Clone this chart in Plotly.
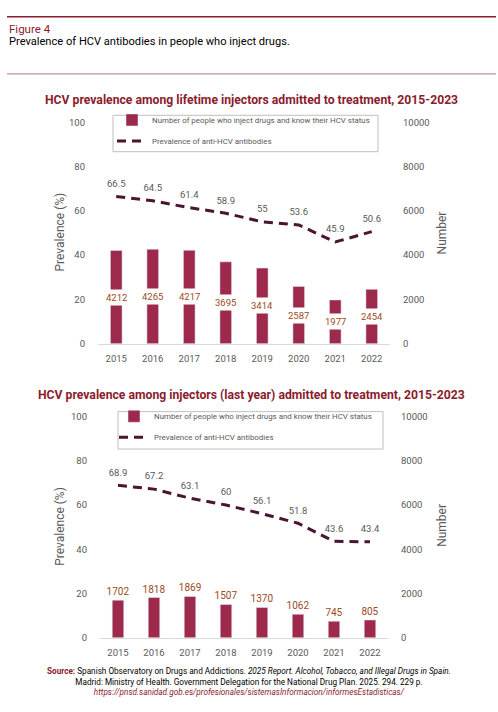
import plotly.graph_objects as go

# data
years = ["2015", "2016", "2017", "2018", "2019", "2020", "2021", "2022"]
lifetime_number = [4212, 4265, 4217, 3695, 3414, 2587, 1977, 2454]
lifetime_prev = [66.5, 64.5, 61.4, 58.9, 55, 53.6, 45.9, 50.6]
lastyear_number = [1702, 1818, 1869, 1507, 1370, 1062, 745, 805]
lastyear_prev = [68.9, 67.2, 63.1, 60, 56.1, 51.8, 43.6, 43.4]

BAR_COLOR = "#9E2A4B"
LINE_COLOR = "#4A1530"
LABEL_COLOR = "#9C4A1E"
TITLE_COLOR = "#8B1C2C"
TICK_COLOR = "#595959"
FONT = "Roboto, sans-serif"
W, H = 498, 712


def py(px):
    # pixel row -> paper y
    return 1 - px / H


def px_x(px):
    return px / W


fig = go.Figure()

# top chart: lifetime injectors
fig.add_trace(go.Bar(
    x=years, y=lifetime_number, yaxis="y2", xaxis="x",
    name="Number of people who inject drugs and know their HCV status",
    marker_color=BAR_COLOR, legend="legend", legendgroup="a",
))
fig.add_trace(go.Scatter(
    x=years, y=lifetime_prev, yaxis="y", xaxis="x",
    name="Prevalence of anti-HCV antibodies",
    mode="lines+markers+text", text=[str(v) for v in lifetime_prev],
    textposition="top center", textfont=dict(color=TICK_COLOR, size=9.5),
    marker=dict(size=10, color="rgba(0,0,0,0)"),  # invisible, only pushes labels up
    line=dict(color=LINE_COLOR, width=3, dash="9px,6px"),
    legend="legend", legendgroup="b",
))

# bottom chart: last-year injectors
fig.add_trace(go.Bar(
    x=years, y=lastyear_number, yaxis="y4", xaxis="x2",
    name="Number of people who inject drugs and know their HCV status",
    marker_color=BAR_COLOR, legend="legend2", legendgroup="c",
    text=[str(v) for v in lastyear_number], textposition="outside",
    textfont=dict(color=LABEL_COLOR, size=10), cliponaxis=False,
    constraintext="none",
))
fig.add_trace(go.Scatter(
    x=years, y=lastyear_prev, yaxis="y3", xaxis="x2",
    name="Prevalence of anti-HCV antibodies",
    mode="lines+markers+text", text=[str(v) for v in lastyear_prev],
    textposition="top center", textfont=dict(color=TICK_COLOR, size=9.5),
    marker=dict(size=10, color="rgba(0,0,0,0)"),
    line=dict(color=LINE_COLOR, width=3, dash="9px,6px"),
    legend="legend2", legendgroup="d",
))

# bar labels inside the top bars, on a white box (x as category index)
annotations = []
for i, v in enumerate(lifetime_number):
    annotations.append(dict(
        x=i, y=v / 2, xref="x", yref="y2", text=str(v), showarrow=False,
        bgcolor="white", borderpad=2, font=dict(color=LABEL_COLOR, size=9.5),
    ))

tick_font = dict(color=TICK_COLOR, size=9.5, family=FONT)
xaxis_common = dict(
    type="category", range=[-0.5, len(years) - 0.5], showgrid=False,
    showline=True, linecolor="#D9D9D9", linewidth=1, ticks="",
    tickfont=tick_font, ticklabelstandoff=6,
)
left_common = dict(
    range=[0, 100], dtick=20, showgrid=False, zeroline=False,
    tickfont=tick_font, ticklabelstandoff=12,
)
right_common = dict(
    range=[0, 10000], dtick=2000, tickformat="d", showgrid=False,
    zeroline=False, side="right", tickfont=tick_font, ticklabelstandoff=12,
)

top_dom = [py(343), py(118)]
bot_dom = [py(641.7), py(417)]

# legend box drawn as a shape, legend itself borderless
legend_common = dict(
    xanchor="left", yanchor="top", borderwidth=0, bgcolor="rgba(0,0,0,0)",
    font=dict(size=7.9, color=TICK_COLOR, family=FONT),
    traceorder="grouped", tracegroupgap=2, itemwidth=30,
)

fig.update_layout(
    width=W, height=H, margin=dict(l=0, r=0, t=0, b=0),
    plot_bgcolor="white", paper_bgcolor="white",
    font=dict(family=FONT, color=TICK_COLOR),
    bargap=0.68, showlegend=True,
    xaxis=dict(domain=[px_x(98), px_x(390)], anchor="y", **xaxis_common),
    yaxis=dict(domain=top_dom, anchor="x", **left_common),
    yaxis2=dict(overlaying="y", anchor="x", **right_common),
    xaxis2=dict(domain=[px_x(100), px_x(388)], anchor="y3", **xaxis_common),
    yaxis3=dict(domain=bot_dom, anchor="x2", **left_common),
    yaxis4=dict(overlaying="y3", anchor="x2", **right_common),
    legend=dict(x=px_x(112), y=py(101), **legend_common),
    legend2=dict(x=px_x(114), y=py(402), **legend_common),
)

# header, chart titles, axis titles, source
annotations += [
    dict(x=px_x(7), y=py(23), text="Figure 4", xanchor="left", yanchor="middle",
         font=dict(size=11.5, color=TITLE_COLOR, family=FONT)),
    dict(x=px_x(7), y=py(36.5), text="Prevalence of HCV antibodies in people who inject drugs.",
         xanchor="left", yanchor="middle", font=dict(size=11.1, color="black", family=FONT)),
    dict(x=px_x(251), y=py(95),
         text="<b>HCV prevalence among lifetime injectors admitted to treatment, 2015-2023</b>",
         xanchor="center", yanchor="middle", font=dict(size=12.2, color=TITLE_COLOR, family=FONT)),
    dict(x=px_x(251), y=py(395),
         text="<b>HCV prevalence among injectors (last year) admitted to treatment, 2015-2023</b>",
         xanchor="center", yanchor="middle", font=dict(size=12.2, color=TITLE_COLOR, family=FONT)),
    dict(x=px_x(60), y=py(230), text="Prevalence (%)", textangle=-90,
         xanchor="center", yanchor="middle", font=dict(size=12, color=TICK_COLOR, family=FONT)),
    dict(x=px_x(442), y=py(231), text="Number", textangle=-90,
         xanchor="center", yanchor="middle", font=dict(size=12, color=TICK_COLOR, family=FONT)),
    dict(x=px_x(60), y=py(529), text="Prevalence (%)", textangle=-90,
         xanchor="center", yanchor="middle", font=dict(size=12, color=TICK_COLOR, family=FONT)),
    dict(x=px_x(442), y=py(528), text="Number", textangle=-90,
         xanchor="center", yanchor="middle", font=dict(size=12, color=TICK_COLOR, family=FONT)),
    dict(x=0.5, y=py(686.5), xanchor="center", yanchor="middle", align="center",
         text=("<b><span style='color:#8B1C2C'>Source:</span></b> Spanish Observatory on Drugs and Addictions. "
               "<i>2025 Report. Alcohol, Tobacco, and Illegal Drugs in Spain.</i><br>"
               "Madrid: Ministry of Health. Government Delegation for the National Drug Plan. 2025. 294. 229 p.<br>"
               "<i><span style='color:#8B1C2C'>https://pnsd.sanidad.gob.es/profesionales/sistemasInformacion/informesEstadisticas/</span></i>"),
         font=dict(size=8.2, color="black", family=FONT)),
]
for a in annotations[len(years):]:
    a.setdefault("xref", "paper")
    a.setdefault("yref", "paper")
    a.setdefault("showarrow", False)


def box(x0, y0, x1, y1):
    return dict(type="rect", xref="paper", yref="paper", layer="below",
                x0=px_x(x0), x1=px_x(x1), y0=py(y0), y1=py(y1),
                line=dict(color="#BFBFBF", width=1), fillcolor="white")


fig.update_layout(
    annotations=annotations,
    shapes=[
        dict(type="line", xref="paper", yref="paper", x0=px_x(7), x1=px_x(496),
             y0=py(11), y1=py(11), line=dict(color=TITLE_COLOR, width=1.5)),
        dict(type="line", xref="paper", yref="paper", x0=px_x(7), x1=px_x(496),
             y0=py(69), y1=py(69), line=dict(color="#A87880", width=1)),
        box(113, 111, 378, 148),
        box(118, 412, 383, 450),
    ],
)

# drop the default body margin so the figure fills the window
fig.write_html("out.html", config={"displayModeBar": False},
               post_script="document.body.style.margin='0';")
